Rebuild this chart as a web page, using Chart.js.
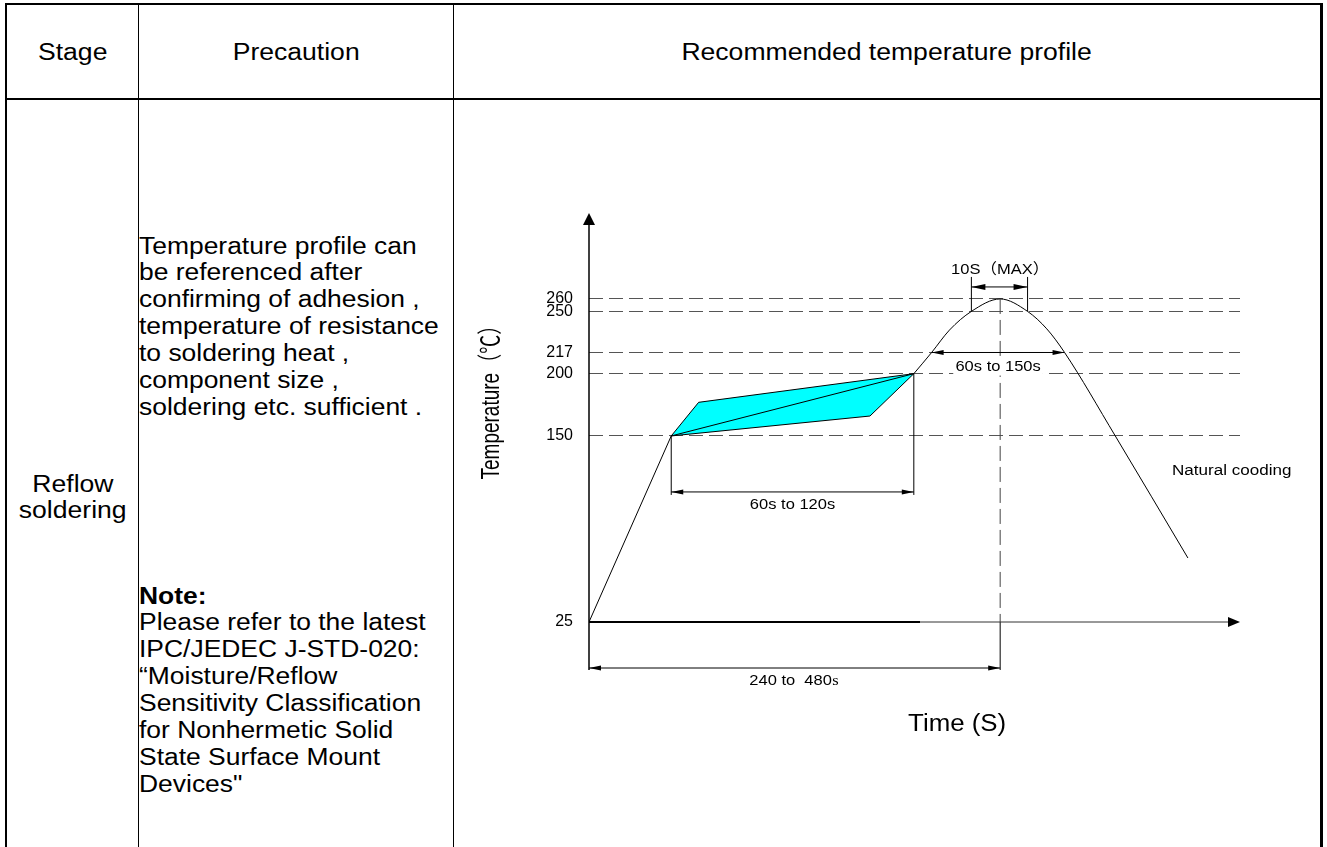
<!DOCTYPE html>
<html>
<head>
<meta charset="utf-8">
<title>Reflow soldering — recommended temperature profile</title>
<script src="https://cdn.jsdelivr.net/npm/chart.js@4/dist/chart.umd.min.js"></script>
<style>
  html, body { margin: 0; padding: 0; background: #fff; }
  body { width: 1327px; height: 847px; position: relative; overflow: hidden;
         font-family: "Liberation Sans", Arial, sans-serif; color: #000; }
  .rule { position: absolute; background: #000; }
  .cell { position: absolute; font-size: 23.5px; white-space: pre; }
  .center { text-align: center; }
  .center span { display: inline-block; transform: scaleX(1.13); transform-origin: center; }
  .left { transform: scaleX(1.125); transform-origin: left top; line-height: 26.86px; }
  #profile { position: absolute; left: 454px; top: 100px; }
</style>
</head>
<body>

<!-- table rules -->
<div class="rule" style="left:5px;top:3px;width:1318px;height:2px"></div>
<div class="rule" style="left:5px;top:3px;width:2px;height:844px"></div>
<div class="rule" style="left:1320px;top:3px;width:3px;height:844px"></div>
<div class="rule" style="left:138px;top:4px;width:1px;height:843px"></div>
<div class="rule" style="left:453px;top:4px;width:1px;height:843px"></div>
<div class="rule" style="left:5px;top:98px;width:1318px;height:2px"></div>

<!-- header row -->
<div class="cell center" style="left:7px;width:131px;top:38px;line-height:28px"><span>Stage</span></div>
<div class="cell center" style="left:139px;width:314px;top:38px;line-height:28px"><span>Precaution</span></div>
<div class="cell center" style="left:454px;width:866px;top:38px;line-height:28px"><span>Recommended temperature profile</span></div>

<!-- body row -->
<div class="cell center" style="left:7px;width:131px;top:471px;line-height:26px"><span>Reflow</span><br><span>soldering</span></div>
<div class="cell left" style="left:139px;top:232.6px">Temperature profile can
be referenced after
confirming of adhesion ,
temperature of resistance
to soldering heat ,
component size ,
soldering etc. sufficient .</div>
<div class="cell left" style="left:139px;top:582.6px"><b>Note:</b>
Please refer to the latest
IPC/JEDEC J-STD-020:
“Moisture/Reflow
Sensitivity Classification
for Nonhermetic Solid
State Surface Mount
Devices"</div>

<canvas id="profile" width="866" height="747"></canvas>

<script>
// Reflow profile — schematic

const Y_TICKS = [25, 150, 200, 217, 250, 260];

// preheat ramp + soak centre line (time s, temp °C)
const RAMP_TIME = [0, 60, 237];
const RAMP_TEMP = [25, 150, 200];

// soak window outline
const SOAK_UPPER_TIME = [60, 80, 237];
const SOAK_UPPER_TEMP = [150, 177, 200];
const SOAK_LOWER_TIME = [60, 205, 237];
const SOAK_LOWER_TEMP = [150, 166, 200];

// reflow hump + natural cooling
const REFLOW_TIME = [237, 250, 263, 279, 300, 320, 334, 347, 384, 437];
const REFLOW_TEMP = [200, 217, 235, 250, 260, 250, 236, 217, 150, 68];

// dimensioned windows [from, to] on the time axis
const SOAK_WINDOW = [60, 237];
const LIQUIDUS_WINDOW = [250, 347];
const PEAK_WINDOW = [279, 320];
const TOTAL_WINDOW = [0, 300];
const PEAK = { time: 300, temp: 260 };

const DIM_LABELS = {
  soak: '60s to 120s',
  liquidus: '60s to 150s',
  peak: '10S（MAX）',
  total: '240 to  480',
};

const TIME_MAX = 475;
const TEMP_TOP = 329;

const FONT = '"Liberation Sans", Arial, "Noto Sans CJK SC", sans-serif';
const TEXT_STRETCH = 1.1;
const STRETCH_BELOW = 1.195;   // the 25–150 band is drawn taller than the rest

// ── Scale: linear, but the band under 150 °C is stretched like the original ──

class ProfileScale extends Chart.LinearScale {
  static id = 'profile';
  static defaults = Chart.LinearScale.defaults;
  getPixelForValue(v) {
    if (v == null) return NaN;
    const w = v < 150 ? 150 - (150 - v) * STRETCH_BELOW : v;
    return super.getPixelForValue(w);
  }
  getValueForPixel(p) {
    const w = super.getValueForPixel(p);
    return w < 150 ? 150 - (150 - w) / STRETCH_BELOW : w;
  }
}
Chart.register(ProfileScale);

const pts = (xs, ys) => xs.map((x, i) => ({ x, y: ys[i] }));

// ── Helpers ────────────────────────────────────────────────

function line(ctx, x1, y1, x2, y2) {
  ctx.beginPath();
  ctx.moveTo(x1, y1);
  ctx.lineTo(x2, y2);
  ctx.stroke();
}

function arrowHead(ctx, x, y, dx, dy, len, half) {
  ctx.beginPath();
  ctx.moveTo(x, y);
  ctx.lineTo(x - dx * len - dy * half, y - dy * len + dx * half);
  ctx.lineTo(x - dx * len + dy * half, y - dy * len - dx * half);
  ctx.closePath();
  ctx.fill();
}

function dimension(ctx, x1, x2, y, len = 12, half = 2.5) {
  line(ctx, x1, y, x2, y);
  arrowHead(ctx, x1, y, -1, 0, len, half);
  arrowHead(ctx, x2, y, 1, 0, len, half);
}

function text(ctx, str, x, y, size, align = 'center', opts = {}) {
  ctx.save();
  ctx.font = `${size}px ${opts.family || FONT}`;
  ctx.textAlign = align;
  ctx.textBaseline = 'middle';
  ctx.translate(x, y);
  if (opts.rotate) ctx.rotate(opts.rotate);
  ctx.scale(opts.stretch || TEXT_STRETCH, 1);
  if (opts.knockout) {
    const w = ctx.measureText(str).width;
    ctx.fillStyle = '#fff';
    ctx.fillRect(-w / 2 - 2, -size * 0.6, w + 4, size * 1.2);
    ctx.fillStyle = '#000';
  }
  ctx.fillText(str, 0, 0);
  ctx.restore();
}

// ── Annotations: axes with arrows, dimension lines, labels ──

const annotations = {
  id: 'annotations',
  afterDatasetsDraw(chart) {
    const { ctx, chartArea: ca } = chart;
    const X = v => chart.scales.x.getPixelForValue(v);
    const Y = v => chart.scales.y.getPixelForValue(v);
    const dimBottom = ca.bottom + 46;

    ctx.save();
    ctx.strokeStyle = '#000';
    ctx.fillStyle = '#000';

    // peak marker: dashed down to the axis, solid below it
    ctx.lineWidth = 1;
    ctx.strokeStyle = '#444';
    ctx.setLineDash([15, 6]);
    line(ctx, X(PEAK.time), Y(PEAK.temp), X(PEAK.time), ca.bottom);
    ctx.setLineDash([]);
    ctx.strokeStyle = '#000';
    line(ctx, X(PEAK.time), ca.bottom, X(PEAK.time), dimBottom + 2);

    // x axis
    ctx.strokeStyle = '#333';
    line(ctx, ca.left, ca.bottom, ca.right - 8, ca.bottom);
    ctx.strokeStyle = '#000';
    ctx.lineWidth = 2;
    line(ctx, ca.left, ca.bottom, ca.left + 331, ca.bottom);
    arrowHead(ctx, ca.right, ca.bottom, 1, 0, 12, 5);

    // y axis (continues down as the extension of the total-time dimension)
    ctx.lineWidth = 1.5;
    line(ctx, ca.left, ca.top + 8, ca.left, dimBottom + 2);
    arrowHead(ctx, ca.left, ca.top, 0, -1, 12, 6);

    ctx.lineWidth = 1;

    // soak window
    const soakY = Y(150) + 56;
    line(ctx, X(SOAK_WINDOW[0]), Y(150), X(SOAK_WINDOW[0]), soakY + 3);
    line(ctx, X(SOAK_WINDOW[1]), Y(200), X(SOAK_WINDOW[1]), soakY + 3);
    dimension(ctx, X(SOAK_WINDOW[0]), X(SOAK_WINDOW[1]), soakY);
    text(ctx, DIM_LABELS.soak, (X(SOAK_WINDOW[0]) + X(SOAK_WINDOW[1])) / 2, soakY + 13, 15);

    // time above liquidus (217)
    const liqY = Y(217);
    dimension(ctx, X(LIQUIDUS_WINDOW[0]), X(LIQUIDUS_WINDOW[1]), liqY);
    text(ctx, DIM_LABELS.liquidus, (X(LIQUIDUS_WINDOW[0]) + X(LIQUIDUS_WINDOW[1])) / 2, liqY + 14, 15,
      'center', { knockout: true });

    // time near peak
    const pkTop = Y(260) - 22;
    const pkY = Y(260) - 12;
    line(ctx, X(PEAK_WINDOW[0]), Y(250), X(PEAK_WINDOW[0]), pkTop);
    line(ctx, X(PEAK_WINDOW[1]), Y(250), X(PEAK_WINDOW[1]), pkTop);
    dimension(ctx, X(PEAK_WINDOW[0]), X(PEAK_WINDOW[1]), pkY, 14, 3);
    text(ctx, DIM_LABELS.peak, X(PEAK.time), Y(260) - 29, 15);

    // total time, 25 °C to peak
    dimension(ctx, X(TOTAL_WINDOW[0]), X(TOTAL_WINDOW[1]), dimBottom);
    const totX = (X(TOTAL_WINDOW[0]) + X(TOTAL_WINDOW[1])) / 2 - 4;
    text(ctx, DIM_LABELS.total, totX, dimBottom + 13, 15);
    ctx.save();
    ctx.font = `15px ${FONT}`;
    const half = ctx.measureText(DIM_LABELS.total).width * TEXT_STRETCH / 2;
    ctx.restore();
    text(ctx, 's', totX + half + 0.5, dimBottom + 13, 15, 'left', { family: '"Liberation Serif", serif' });

    // free labels
    text(ctx, 'Natural cooding', ca.right - 68, Y(150) + 35, 15.5, 'left');
    text(ctx, 'Time (S)', X(PEAK.time) - 43, ca.bottom + 103, 23.5);
    text(ctx, 'Temperature（℃）', ca.left - 97, Y(200) + 24, 25, 'center',
      { rotate: -Math.PI / 2, stretch: 0.76 });

    ctx.restore();
  },
};

// ── Chart ──────────────────────────────────────────────────

const black = { borderColor: '#000', borderWidth: 1, pointRadius: 0, fill: false };

new Chart(document.getElementById('profile'), {
  type: 'line',
  data: {
    datasets: [
      { label: 'Reflow', data: pts(REFLOW_TIME, REFLOW_TEMP), ...black,
        cubicInterpolationMode: 'monotone', order: 0 },
      { label: 'Ramp', data: pts(RAMP_TIME, RAMP_TEMP), ...black, tension: 0, order: 1 },
      { label: 'Soak upper', data: pts(SOAK_UPPER_TIME, SOAK_UPPER_TEMP), ...black,
        fill: '+1', backgroundColor: '#00ffff', tension: 0, order: 3 },
      { label: 'Soak lower', data: pts(SOAK_LOWER_TIME, SOAK_LOWER_TEMP), ...black,
        tension: 0, order: 2 },
    ],
  },
  options: {
    responsive: false,
    animation: false,
    events: [],
    layout: { padding: { left: 75, top: 113, right: 80, bottom: 225 } },
    plugins: {
      legend: { display: false },
      tooltip: { enabled: false },
      filler: { drawTime: 'beforeDatasetsDraw' },
    },
    scales: {
      x: { type: 'linear', display: false, min: 0, max: TIME_MAX },
      y: {
        type: 'profile',
        bounds: 'data',
        min: 150 - (150 - Y_TICKS[0]) * STRETCH_BELOW,
        max: TEMP_TOP,
        afterBuildTicks: s => { s.ticks = Y_TICKS.map(v => ({ value: v })); },
        afterFit: s => { s.width = 60; },
        ticks: {
          autoSkip: false, padding: 16, color: '#000',
          font: { family: FONT, size: 16 },
          callback: v => String(v),
        },
        grid: {
          drawTicks: false,
          lineWidth: 1,
          color: c => (c.tick && c.tick.value === Y_TICKS[0] ? 'rgba(0,0,0,0)' : '#555'),
        },
        border: { display: false, dash: [14, 6] },
      },
    },
  },
  plugins: [annotations],
});
</script>
</body>
</html>
